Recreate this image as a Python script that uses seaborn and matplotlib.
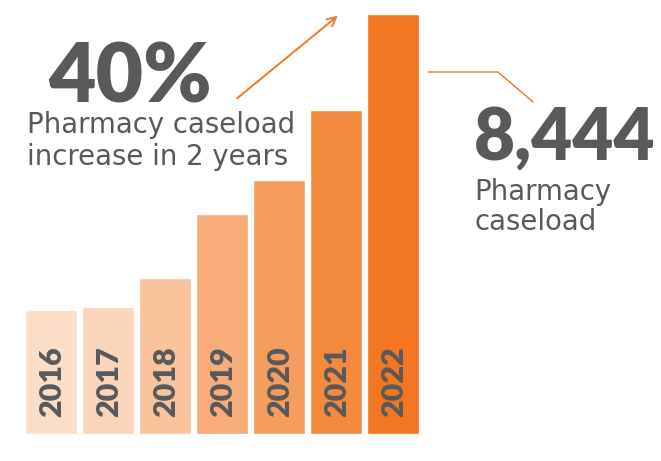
import matplotlib
matplotlib.use("Agg")
import matplotlib.pyplot as plt
import seaborn as sns

years = ["2016", "2017", "2018", "2019", "2020", "2021", "2022"]
caseload = [2493, 2553, 3136, 4423, 5107, 6514, 8444]
bar_colors = ["#FCDDC6", "#FBD5BA", "#F9C39E", "#F7AD7A", "#F59D5C", "#F48A3D", "#F37721"]
headline_pct = "40%"
headline_lines = ["Pharmacy caseload", "increase in 2 years"]
total_label = "8,444"
total_lines = ["Pharmacy", "caseload"]

W, H = 661, 461
GRAY = "#58595B"
ORANGE = "#F37721"

sns.set_theme(style="white")
plt.rcParams["font.family"] = ["Lato", "DejaVu Sans"]

fig = plt.figure(figsize=(W / 100, H / 100), dpi=100)
ax = fig.add_axes([0, 0, 1, 1])
sns.barplot(x=years, y=caseload, hue=years, palette=bar_colors, width=0.913,
            saturation=1, legend=False, ax=ax)

step = 56.95
x0 = 51.0
vpp = 8444 / 420.0
ax.set_xlim(-x0 / step, (W - x0) / step)
ax.set_ylim(-(H - 434) * vpp, 434 * vpp)
ax.axis("off")

# year labels inside bars
for i, y in enumerate(years):
    ax.text(i + 0.02, 17 * vpp, y, rotation=90, ha="center", va="bottom",
            fontsize=22, fontweight="heavy", color=GRAY,
            family=["Lato", "DejaVu Sans"])


def fp(x, y):
    return (x / W, 1 - y / H)

BODY = ["DejaVu Sans"]

fig.text(*fp(48, 102), headline_pct, fontsize=59, fontweight="heavy",
         color=GRAY, ha="left", va="baseline", family=["Lato", "DejaVu Sans"])
fig.text(*fp(27, 133), headline_lines[0], fontsize=19.8, color=GRAY,
         family=BODY, ha="left", va="baseline")
fig.text(*fp(27, 165), headline_lines[1], fontsize=19.8, color=GRAY,
         family=BODY, ha="left", va="baseline")

fig.text(*fp(474, 160), total_label, fontsize=51, fontweight="heavy",
         color=GRAY, ha="left", va="baseline", family=["Lato", "DejaVu Sans"])
fig.text(*fp(474, 200), total_lines[0], fontsize=19.8, color=GRAY,
         family=BODY, ha="left", va="baseline")
fig.text(*fp(474, 230), total_lines[1], fontsize=19.8, color=GRAY,
         family=BODY, ha="left", va="baseline")

# arrow
ax.annotate("", xy=fp(340, 14), xytext=fp(235, 100), xycoords="figure fraction",
            textcoords="figure fraction",
            arrowprops=dict(arrowstyle="->", color=ORANGE, lw=1.4,
                            mutation_scale=16))
# connector line
fig.add_artist(plt.Line2D([428 / W, 498 / W, 533 / W],
                          [1 - 72 / H, 1 - 72 / H, 1 - 102 / H],
                          color=ORANGE, lw=1.0))

fig.savefig("out.png", dpi=100, facecolor="white")
